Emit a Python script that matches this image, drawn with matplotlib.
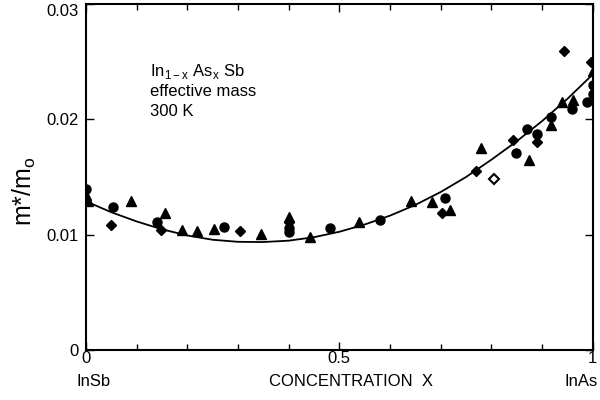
import numpy as np
import matplotlib.pyplot as plt
from matplotlib.ticker import MultipleLocator

plt.rcParams['font.family'] = ['Liberation Sans', 'DejaVu Sans']

circ_x = [0, 0.054, 0.141, 0.272, 0.40, 0.40, 0.481, 0.581, 0.709, 0.848,
          0.870, 0.890, 0.917, 0.958, 0.989, 1.0, 1.0]
circ_y = [0.0140, 0.0124, 0.0111, 0.0107, 0.0106, 0.0102, 0.0106, 0.0113, 0.0132, 0.0171,
          0.0192, 0.0187, 0.0202, 0.0209, 0.0215, 0.0230, 0.0222]

tri_x = [0, 0.005, 0.09, 0.156, 0.19, 0.22, 0.252, 0.345, 0.40, 0.442,
         0.539, 0.641, 0.682, 0.718, 0.78, 0.874, 0.917, 0.94, 0.96, 1.0]
tri_y = [0.0134, 0.0129, 0.0129, 0.0119, 0.0104, 0.0103, 0.0105, 0.0101, 0.0115, 0.0098,
         0.0111, 0.0129, 0.0128, 0.0121, 0.0175, 0.0165, 0.0195, 0.0215, 0.0217, 0.0242]

dia_x = [0.05, 0.149, 0.305, 0.40, 0.702, 0.769, 0.843, 0.89, 0.943, 0.996]
dia_y = [0.0108, 0.0104, 0.0103, 0.0111, 0.0119, 0.0155, 0.0182, 0.0180, 0.0259, 0.0250]

open_dia_x = [0.805]
open_dia_y = [0.0148]

# fitted curve, read every 0.05
curve_x = np.arange(0, 1.0001, 0.05)
curve_y = [0.01290, 0.01195, 0.01115, 0.01047, 0.00993, 0.00956, 0.00938, 0.00936,
           0.00948, 0.00978, 0.01025, 0.01088, 0.01165, 0.01258, 0.01370, 0.01500,
           0.01650, 0.01810, 0.01985, 0.02178, 0.02390]

fig = plt.figure(figsize=(6, 4), dpi=100)
ax = fig.add_axes([0.143, 0.125, 0.845, 0.865])

ax.plot(curve_x, curve_y, color='black', lw=1.3)
ax.plot(circ_x, circ_y, 'o', color='black', ms=6.5)
ax.plot(tri_x, tri_y, '^', color='black', ms=6.5)
ax.plot(dia_x, dia_y, 'D', color='black', ms=5.5)
ax.plot(open_dia_x, open_dia_y, 'D', mfc='white', mec='black', mew=1.5, ms=5.5)

ax.set_xlim(0, 1)
ax.set_ylim(0, 0.03)
ax.set_xticks([0, 0.5, 1])
ax.set_xticklabels(['0', '0.5', '1'])
ax.xaxis.set_minor_locator(MultipleLocator(0.1))
ax.set_yticks([0, 0.01, 0.02, 0.03])
ax.set_yticklabels(['0', '0.01', '0.02', '0.03'])
ax.tick_params(which='major', direction='in', length=6, width=1, labelsize=12,
               top=True, right=True)
ax.tick_params(axis='x', which='major', pad=1)
ax.tick_params(axis='y', which='major', pad=5)
ax.tick_params(which='minor', direction='in', length=4, width=1, top=True)
ax.get_yticklabels()[-1].set_verticalalignment('top')
for s in ax.spines.values():
    s.set_linewidth(1.5)

ax.set_ylabel('m*/m$_\\mathregular{o}$', fontsize=18)
ax.yaxis.set_label_coords(-0.095, 0.46)

ax.text(0.126, 0.0238, 'In$_\\mathregular{1-x}$ As$_\\mathregular{x}$ Sb', fontsize=12)
ax.text(0.126, 0.0220, 'effective mass', fontsize=12)
ax.text(0.126, 0.0203, '300 K', fontsize=12)

fig.text(77 / 600, 1 - 381 / 400, 'InSb', fontsize=12, va='center', ha='left')
fig.text(351 / 600, 1 - 381 / 400, 'CONCENTRATION  X', fontsize=12, va='center', ha='center')
fig.text(598 / 600, 1 - 381 / 400, 'InAs', fontsize=12, va='center', ha='right')

fig.savefig('out.png', dpi=100)
